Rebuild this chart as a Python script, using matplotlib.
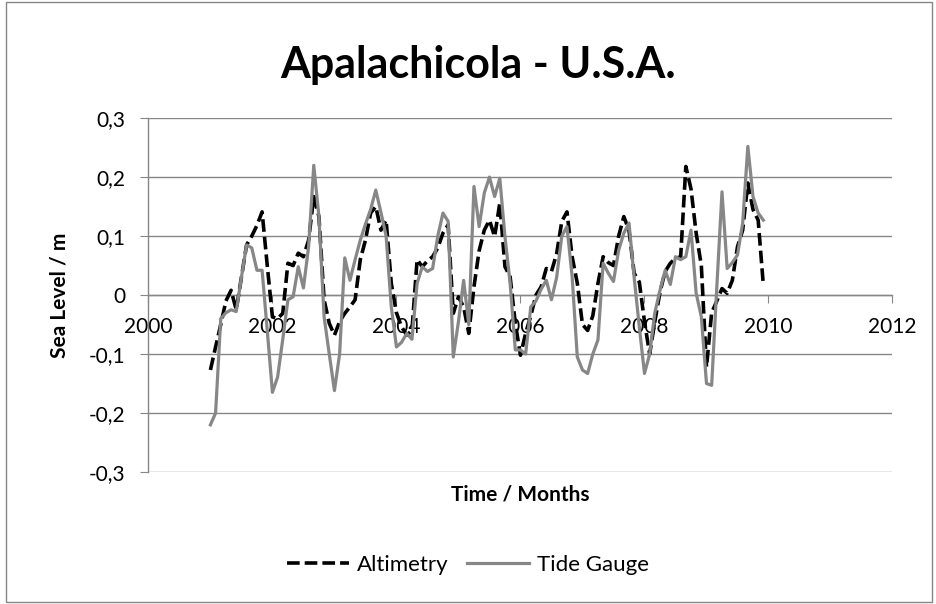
import matplotlib
matplotlib.use('Agg')
import matplotlib.pyplot as plt
import numpy as np
from matplotlib.patches import Rectangle

plt.rcParams['font.family'] = ['Lato', 'DejaVu Sans']

# monthly values, Jan 2001 .. Dec 2009
altimetry = [-0.127, -0.088, -0.05, -0.01, 0.008, -0.025, 0.03, 0.085, 0.1, 0.118, 0.141, 0.05,
             -0.037, -0.04, -0.031, 0.054, 0.05, 0.071, 0.065, 0.093, 0.167, 0.133, -0.008, -0.048,
             -0.068, -0.045, -0.031, -0.02, -0.008, 0.06, 0.093, 0.139, 0.15, 0.11, 0.127, 0.02,
             -0.03, -0.054, -0.068, -0.06, 0.06, 0.048, 0.058, 0.065, 0.08, 0.105, 0.119, -0.031,
             -0.003, -0.02, -0.065, 0.014, 0.075, 0.11, 0.127, 0.099, 0.156, 0.048, 0.031, -0.048,
             -0.102, -0.065, -0.035, 0.0, 0.014, 0.045, 0.04, 0.07, 0.125, 0.141, 0.065, 0.02,
             -0.05, -0.06, -0.035, 0.02, 0.065, 0.055, 0.05, 0.1, 0.133, 0.11, 0.037, 0.022,
             -0.045, -0.1, -0.045, 0.005, 0.04, 0.054, 0.062, 0.065, 0.218, 0.18, 0.105, 0.05,
             -0.122, -0.03, -0.01, 0.011, 0.003, 0.025, 0.082, 0.11, 0.19, 0.145, 0.127, 0.017]
tide_gauge = [-0.22, -0.2, -0.04, -0.03, -0.025, -0.028, 0.03, 0.085, 0.08, 0.042, 0.042, -0.06,
              -0.165, -0.139, -0.075, -0.008, -0.003, 0.048, 0.012, 0.082, 0.22, 0.133, -0.037, -0.1,
              -0.162, -0.1, 0.063, 0.025, 0.06, 0.093, 0.12, 0.145, 0.178, 0.14, 0.1, -0.02,
              -0.088, -0.08, -0.065, -0.075, 0.02, 0.048, 0.04, 0.045, 0.1, 0.139, 0.125, -0.105,
              -0.045, 0.025, -0.05, 0.184, 0.116, 0.173, 0.2, 0.167, 0.198, 0.099, 0.02, -0.093,
              -0.093, -0.1, -0.02, -0.01, 0.01, 0.025, -0.008, 0.03, 0.1, 0.116, 0.031, -0.105,
              -0.127, -0.133, -0.1, -0.076, 0.054, 0.037, 0.023, 0.076, 0.105, 0.122, 0.03, -0.054,
              -0.133, -0.1, -0.03, 0.008, 0.042, 0.018, 0.065, 0.06, 0.065, 0.11, 0.003, -0.037,
              -0.15, -0.153, 0.014, 0.175, 0.045, 0.055, 0.068, 0.122, 0.252, 0.167, 0.139, 0.127]
start_year = 2001
x_ticks = [2000, 2002, 2004, 2006, 2008, 2010, 2012]
y_ticks = [-0.3, -0.2, -0.1, 0, 0.1, 0.2, 0.3]

t = start_year + (np.arange(len(altimetry)) + 0.1) / 12.0

fig = plt.figure(figsize=(9.36, 6.04), dpi=100)
ax = fig.add_axes([0.158, 0.2185, 0.795, 0.586])

grid_c = '#868686'
ax.plot(t, altimetry, color='black', lw=2.6, ls=(0, (3.5, 1.4)), label='Altimetry', zorder=3)
ax.plot(t, tide_gauge, color='#878787', lw=2.3, label='Tide Gauge', zorder=4)

ax.set_xlim(2000, 2012)
ax.set_ylim(-0.3, 0.3)
ax.set_yticks(y_ticks)
ax.set_yticklabels(['0' if v == 0 else ('%.1f' % v).replace('.', ',') for v in y_ticks])
ax.set_xticks(x_ticks)
ax.set_xticklabels([str(v) for v in x_ticks])
ax.yaxis.grid(True, color=grid_c, lw=1.0)
ax.set_axisbelow(True)

for s in ['top', 'right']:
    ax.spines[s].set_visible(False)
ax.spines['left'].set_color(grid_c)
ax.spines['left'].set_linewidth(1.0)
ax.spines['bottom'].set_position(('data', 0))
ax.spines['bottom'].set_color(grid_c)
ax.spines['bottom'].set_linewidth(1.0)
ax.tick_params(axis='y', length=6, color=grid_c, labelsize=15, pad=10)
ax.tick_params(axis='x', length=6, color=grid_c, labelsize=15, pad=10)

fig.text(0.511, 0.892, 'Apalachicola - U.S.A.', fontsize=31, fontweight='bold',
         ha='center', va='center')
ax.set_ylabel('Sea Level / m', fontsize=15, fontweight='bold', labelpad=14)
ax.set_xlabel('Time / Months', fontsize=15, fontweight='bold')
ax.xaxis.set_label_coords(0.5, -0.035, transform=ax.transAxes)
ax.xaxis.label.set_va('top')

ax.legend(loc='center', bbox_to_anchor=(0.43, -0.263), ncol=2, frameon=False,
          fontsize=16, handlelength=2.8, handletextpad=0.35, columnspacing=0.8)

fig.patches.append(Rectangle((0.006, 0.004), 0.99, 0.992, transform=fig.transFigure,
                             fill=False, edgecolor='#868686', lw=1.0))

fig.savefig('out.png', dpi=100)
